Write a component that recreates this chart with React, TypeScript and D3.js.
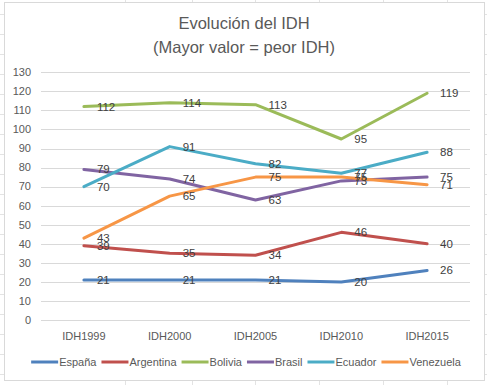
import React, { useEffect, useRef } from 'react'
import * as d3 from 'd3'

// categories and series
const years = ['IDH1999', 'IDH2000', 'IDH2005', 'IDH2010', 'IDH2015']
const countries = ['España', 'Argentina', 'Bolivia', 'Brasil', 'Ecuador', 'Venezuela']
const espana = [21, 21, 21, 20, 26]
const argentina = [39, 35, 34, 46, 40]
const bolivia = [112, 114, 113, 95, 119]
const brasil = [79, 74, 63, 73, 75]
const ecuador = [70, 91, 82, 77, 88]
const venezuela = [43, 65, 75, 75, 71]
const yTicks = [0, 10, 20, 30, 40, 50, 60, 70, 80, 90, 100, 110, 120, 130]
const colors = ['#4f81bd', '#c0504d', '#9bbb59', '#8064a2', '#4bacc6', '#f79646']

const App = () => {
  const ref = useRef<SVGSVGElement>(null)
  const width = 487
  const height = 385

  useEffect(() => {
    const series = [espana, argentina, bolivia, brasil, ecuador, venezuela]
    const svg = d3.select(ref.current)
    svg.selectAll('*').remove()
    const font = '"Liberation Sans", Arial, sans-serif'

    // spreadsheet grid behind the chart
    const bg = svg.append('g').attr('stroke', '#e3e3e3').attr('stroke-width', 1)
    bg.selectAll('line.row')
      .data(d3.range(14, height, 20))
      .join('line')
      .attr('x1', 0).attr('x2', width)
      .attr('y1', d => d + 0.5).attr('y2', d => d + 0.5)
    bg.selectAll('line.col')
      .data([125, 192, 255, 319, 383, 447])
      .join('line')
      .attr('x1', d => d + 0.5).attr('x2', d => d + 0.5)
      .attr('y1', 0).attr('y2', height)

    // chart area
    svg.append('rect')
      .attr('x', 4.5).attr('y', 2.5)
      .attr('width', 480).attr('height', 378)
      .attr('fill', '#fff').attr('stroke', '#d9d9d9')

    const x = d3.scaleBand().domain(years).range([41, 470])
    const y = d3.scaleLinear().domain([0, 130]).range([320, 72.3])
    const cx = (d: string) => (x(d) as number) + x.bandwidth() / 2

    // title
    const title = svg.append('text')
      .attr('text-anchor', 'middle')
      .attr('font-family', font)
      .attr('font-size', 16.5)
      .attr('fill', '#595959')
    title.append('tspan').attr('x', 244).attr('y', 29).text('Evolución del IDH')
    title.append('tspan').attr('x', 244).attr('y', 53).text('(Mayor valor = peor IDH)')

    // gridlines
    svg.append('g')
      .selectAll('line')
      .data(yTicks)
      .join('line')
      .attr('x1', 41).attr('x2', 470)
      .attr('y1', d => Math.round(y(d)) + 0.5)
      .attr('y2', d => Math.round(y(d)) + 0.5)
      .attr('stroke', '#d9d9d9')

    // y labels
    svg.append('g')
      .attr('font-family', font)
      .attr('font-size', 11)
      .attr('fill', '#595959')
      .attr('text-anchor', 'end')
      .selectAll('text')
      .data(yTicks)
      .join('text')
      .attr('x', 31)
      .attr('y', d => y(d))
      .attr('dy', '0.35em')
      .text(d => d)

    // x labels
    svg.append('g')
      .attr('font-family', font)
      .attr('font-size', 11)
      .attr('fill', '#595959')
      .attr('text-anchor', 'middle')
      .selectAll('text')
      .data(years)
      .join('text')
      .attr('x', d => cx(d))
      .attr('y', 336)
      .attr('dy', '0.35em')
      .text(d => d)

    // lines
    const line = d3.line<number>()
      .x((_, i) => cx(years[i]))
      .y(d => y(d))

    svg.append('g')
      .selectAll('path')
      .data(series)
      .join('path')
      .attr('fill', 'none')
      .attr('stroke', (_, i) => colors[i])
      .attr('stroke-width', 3)
      .attr('stroke-linejoin', 'round')
      .attr('stroke-linecap', 'round')
      .attr('d', d => line(d))

    // data labels
    const labels = svg.append('g')
      .attr('font-family', font)
      .attr('font-size', 11.5)
      .attr('fill', '#404040')
    series.forEach(s => {
      labels.append('g')
        .selectAll('text')
        .data(s)
        .join('text')
        .attr('x', (_, i) => cx(years[i]) + 13)
        .attr('y', d => y(d))
        .attr('dy', '0.35em')
        .text(d => d)
    })

    // legend
    const legend = svg.append('g')
      .attr('font-family', font)
      .attr('font-size', 11)
      .attr('fill', '#595959')
    let lx = 0
    countries.forEach((c, i) => {
      legend.append('line')
        .attr('x1', lx).attr('x2', lx + 27)
        .attr('y1', 362).attr('y2', 362)
        .attr('stroke', colors[i])
        .attr('stroke-width', 3)
      const t = legend.append('text')
        .attr('x', lx + 28)
        .attr('y', 362)
        .attr('dy', '0.35em')
        .text(c)
      const w = (t.node() as SVGTextElement).getComputedTextLength()
      lx += 28 + w + 5
    })
    const total = lx - 5
    legend.attr('transform', `translate(${246 - total / 2},0)`)
  }, [])

  return (
    <svg
      ref={ref}
      width={width}
      height={height}
      style={{ position: 'absolute', left: 0, top: 0, display: 'block' }}
    />
  )
}

export default App
